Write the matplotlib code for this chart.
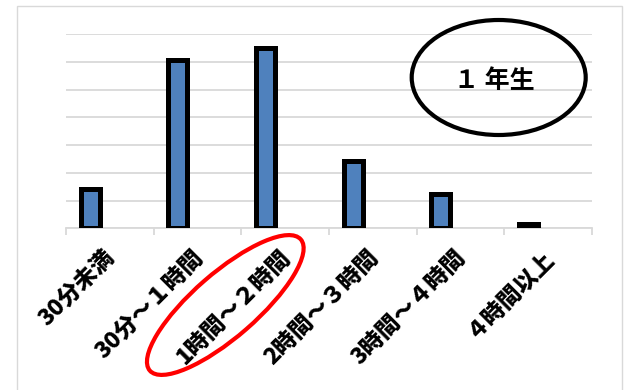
import matplotlib
matplotlib.use('Agg')
import matplotlib.pyplot as plt
from matplotlib.patches import Ellipse, Rectangle
from matplotlib.transforms import IdentityTransform

plt.rcParams['font.family'] = ['Noto Sans CJK JP', 'DejaVu Sans']

# 1年生 学習時間の割合 (%)
categories = ['30分未満', '30分～１時間', '1時間～２時間', '2時間～３時間', '3時間～４時間', '４時間以上']
values = [7.1, 30.4, 32.5, 12.1, 6.1, 0.8]
title = '１ 年生'

W, H = 631, 390
fig = plt.figure(figsize=(W / 100, H / 100), dpi=100)
px = IdentityTransform()  # pixel coords, origin bottom-left

# chart frame
fig.add_artist(Rectangle((16.7, -10), 621.7 - 16.7, H - 5.7 + 10, transform=px,
                         fill=False, edgecolor='#d9d9d9', linewidth=1.0))

ax = fig.add_axes([66 / W, 1 - 228.3 / H, (592 - 66) / W, (228.3 - 34.3) / H])

x = [i + 0.276 for i in range(len(values))]
ax.bar(x, values, width=0.215, color='#4f81bd', edgecolor='black', linewidth=3.6, zorder=3)

ax.set_xlim(0, len(values))
ax.set_ylim(0, 35)
ax.set_yticks(range(0, 36, 5))
ax.yaxis.grid(True, color='#d9d9d9', linewidth=1.3, zorder=0)
ax.tick_params(axis='y', left=False, labelleft=False)
for s in ['top', 'right', 'left']:
    ax.spines[s].set_visible(False)
ax.spines['bottom'].set_color('#d9d9d9')
ax.spines['bottom'].set_linewidth(1.3)

ax.set_xticks(range(len(values) + 1))
ax.set_xticklabels([])
ax.tick_params(axis='x', direction='out', length=5, width=1.3, color='#d9d9d9')

for i, lab in enumerate(categories):
    ax.annotate(lab, xy=(i + 0.5, 0), xycoords='data', xytext=(2, -26),
                textcoords='offset pixels', rotation=45, rotation_mode='anchor',
                ha='right', va='center', fontsize=16.5, fontweight='black')

# title ellipse
fig.add_artist(Ellipse((498.7, H - 77.5), 174, 115, transform=px, fill=False,
                       edgecolor='black', linewidth=3))
fig.text(494 / W, 1 - 81.5 / H, title, ha='center', va='center',
         fontsize=18, fontweight='bold')

# highlight ellipse
fig.add_artist(Ellipse((225.3, H - 305), 200, 64, angle=41, transform=px,
                       fill=False, edgecolor='#ff0000', linewidth=3))

plt.savefig('out.png', dpi=100)
